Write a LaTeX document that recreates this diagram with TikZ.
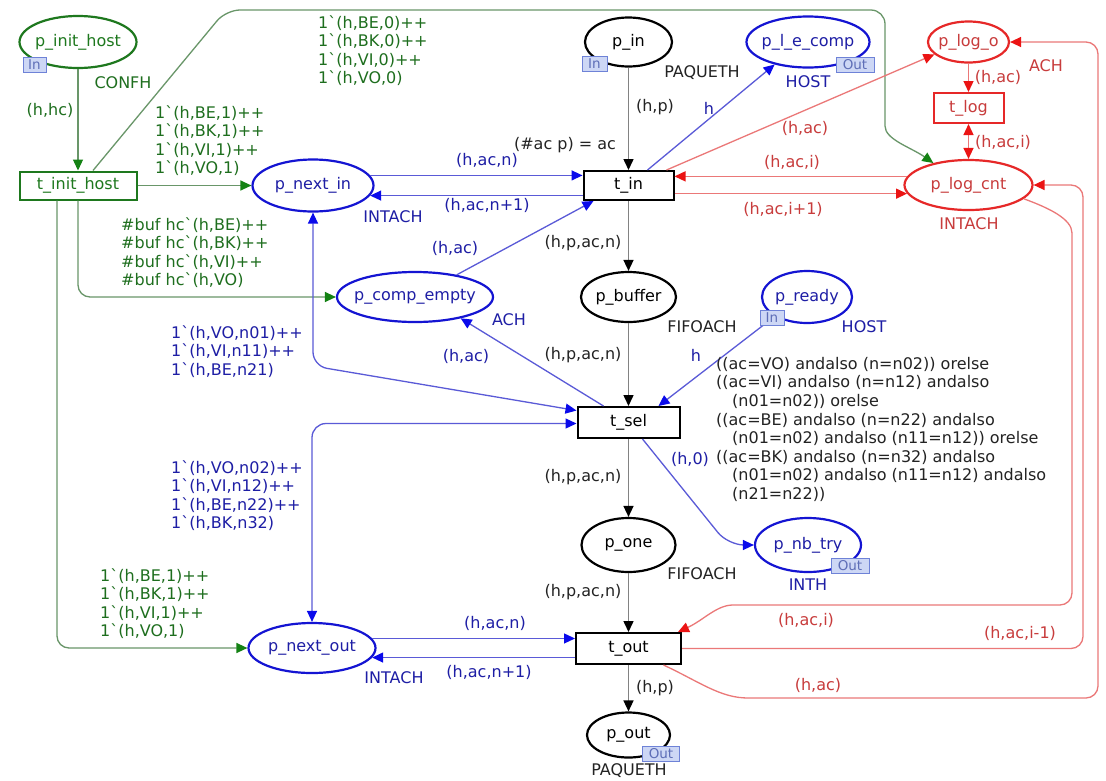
\documentclass[tikz,border=0pt]{standalone}
\usepackage{fontspec}
\setmainfont{DejaVu Sans}
\usetikzlibrary{shapes.geometric,arrows.meta}
\definecolor{gline}{RGB}{105,150,105}
\definecolor{gtip}{RGB}{20,130,20}
\definecolor{gtext}{RGB}{30,110,30}
\definecolor{gnode}{RGB}{30,120,30}
\definecolor{bline}{RGB}{90,90,215}
\definecolor{btip}{RGB}{10,10,235}
\definecolor{btext}{RGB}{30,30,165}
\definecolor{bnode}{RGB}{20,20,210}
\definecolor{rline}{RGB}{235,120,120}
\definecolor{rtip}{RGB}{235,20,20}
\definecolor{rtext}{RGB}{200,60,60}
\definecolor{rnode}{RGB}{230,40,40}
\definecolor{kline}{RGB}{130,130,130}
\definecolor{ktext}{RGB}{35,35,35}
\definecolor{portfill}{RGB}{205,215,245}
\definecolor{portdraw}{RGB}{110,130,215}
\newcommand{\bqt}{\textasciigrave}
\tikzset{
  ghead/.tip={Triangle[length=11pt,width=10pt,color=gtip]},
  bhead/.tip={Triangle[length=11pt,width=10pt,color=btip]},
  rhead/.tip={Triangle[length=11pt,width=10pt,color=rtip]},
  khead/.tip={Triangle[length=11pt,width=10pt,color=black]},
  place/.style={ellipse, inner sep=0pt, line width=2.2pt, fill=white},
  trans/.style={rectangle, inner sep=0pt, line width=2pt, fill=white},
  port/.style={rectangle, inner sep=0pt, minimum height=15pt, fill=portfill, draw=portdraw,
    line width=0.8pt, text=portdraw!85!black, font=\fontsize{13.5}{14}\selectfont},
  garc/.style={draw=gline, line width=1.3pt, -ghead},
  barc/.style={draw=bline, line width=1.3pt, -bhead},
  bboth/.style={barc, bhead-bhead},
  rarc/.style={draw=rline, line width=1.3pt, -rhead},
  rboth/.style={rarc, rhead-rhead},
  karc/.style={draw=kline, line width=1.5pt, -khead},
  gtxt/.style={text=gtext, inner sep=0pt},
  btxt/.style={text=btext, inner sep=0pt},
  rtxt/.style={text=rtext, inner sep=0pt},
  ktxt/.style={text=ktext, inner sep=0pt},
}
\begin{document}
\begin{tikzpicture}[x=1pt, y=-1pt, font=\fontsize{16}{18.6}\selectfont]
  \fill[white] (0,0) rectangle (1106,780);
  \useasboundingbox (0,0) rectangle (1106,780);

  \node[place, draw=gnode, text=gnode, minimum width=117pt, minimum height=52pt] (pinithost) at (78,42) {\makebox[0pt]{p\_init\_host}};
  \node[trans, draw=gnode, text=gnode, minimum width=117pt, minimum height=28pt] (tinithost) at (78,185.5) {t\_init\_host};
  \node[place, draw=bnode, text=btext, minimum width=121pt, minimum height=52pt] (pnextin) at (313,185.5) {\makebox[0pt]{p\_next\_in}};
  \node[place, draw=bnode, text=btext, minimum width=156pt, minimum height=50pt] (pcompempty) at (415,297) {\makebox[0pt]{p\_comp\_empty}};
  \node[place, draw=bnode, text=btext, minimum width=127pt, minimum height=50pt] (pnextout) at (312,648) {\makebox[0pt]{p\_next\_out}};
  \node[place, draw=black, minimum width=87pt, minimum height=49pt] (pin) at (628.5,42) {\makebox[0pt]{p\_in}};
  \node[trans, draw=black, minimum width=90pt, minimum height=29pt] (tin) at (628.5,185.5) {t\_in};
  \node[place, draw=bnode, text=btext, minimum width=123pt, minimum height=51pt] (plecomp) at (808,42) {\makebox[0pt]{p\_l\_e\_comp}};
  \node[place, draw=rnode, text=rtext, minimum width=81pt, minimum height=41pt] (plogo) at (968.5,42) {\makebox[0pt]{p\_log\_o}};
  \node[trans, draw=rnode, text=rtext, minimum width=70pt, minimum height=30pt] (tlog) at (968.5,108) {t\_log};
  \node[place, draw=rnode, text=rtext, minimum width=128pt, minimum height=50pt] (plogcnt) at (968.5,185) {\makebox[0pt]{p\_log\_cnt}};
  \node[place, draw=black, minimum width=95pt, minimum height=50pt] (pbuffer) at (628.5,297) {\makebox[0pt]{p\_buffer}};
  \node[place, draw=bnode, text=btext, minimum width=90pt, minimum height=52pt] (pready) at (807,297) {\makebox[0pt]{p\_ready}};
  \node[trans, draw=black, minimum width=102pt, minimum height=31pt] (tsel) at (628.5,422.5) {t\_sel};
  \node[place, draw=black, minimum width=94pt, minimum height=54pt] (pone) at (628.5,545) {\makebox[0pt]{p\_one}};
  \node[place, draw=bnode, text=btext, minimum width=106pt, minimum height=54pt] (pnbtry) at (808,545) {\makebox[0pt]{p\_nb\_try}};
  \node[trans, draw=black, minimum width=105pt, minimum height=31pt] (tout) at (628.5,648.5) {t\_out};
  \node[place, draw=black, minimum width=83pt, minimum height=45pt] (pout) at (628.5,735) {\makebox[0pt]{p\_out}};

  \node[gtxt] (confh) at (123,83) {CONFH};
  \node[btxt] (intachin) at (393,217) {INTACH};
  \node[btxt] (achce) at (509,320) {ACH};
  \node[btxt] (intachout) at (394,678) {INTACH};
  \node[ktxt] (paqin) at (702,73) {PAQUETH};
  \node[btxt] (hostle) at (808,82) {HOST};
  \node[rtxt] (achlog) at (1046,66) {ACH};
  \node[rtxt] (intachlog) at (969,224) {INTACH};
  \node[ktxt] (fifobuf) at (702,327) {FIFOACH};
  \node[btxt] (hostready) at (864,327) {HOST};
  \node[ktxt] (fifoone) at (702,574) {FIFOACH};
  \node[btxt] (inth) at (808,585) {INTH};
  \node[ktxt] (paqout) at (629,771) {PAQUETH};

  \draw[garc] (pinithost) -- (tinithost);
  \node[gtxt] (ahhc) at (50,110) {(h,hc)};
  \draw[garc, rounded corners=14pt] ([xshift=15pt]tinithost.north) -- (226,10) -- (885,10) -- (885,112) to[out=-90,in=145] (plogcnt.148);
  \node[gtxt, anchor=north west, align=left] (ainitlog) at (318,15) {1\bqt(h,BE,0)++\\1\bqt(h,BK,0)++\\1\bqt(h,VI,0)++\\1\bqt(h,VO,0)};
  \draw[garc] (tinithost) -- (pnextin);
  \node[gtxt, anchor=north west, align=left] (ainitin) at (155,105) {1\bqt(h,BE,1)++\\1\bqt(h,BK,1)++\\1\bqt(h,VI,1)++\\1\bqt(h,VO,1)};
  \draw[garc, rounded corners=12pt] (tinithost.south) |- (pcompempty.west);
  \node[gtxt, anchor=north west, align=left] (ainitce) at (121,217) {\#buf hc\bqt(h,BE)++\\\#buf hc\bqt(h,BK)++\\\#buf hc\bqt(h,VI)++\\\#buf hc\bqt(h,VO)};
  \draw[garc, rounded corners=12pt] ([xshift=-21pt]tinithost.south) |- (pnextout.west);
  \node[gtxt, anchor=north west, align=left] (ainitout) at (100,568) {1\bqt(h,BE,1)++\\1\bqt(h,BK,1)++\\1\bqt(h,VI,1)++\\1\bqt(h,VO,1)};

  \draw[barc] (pnextin.10) -- (pnextin.10 -| tin.west);
  \node[btxt] (anin) at (487,160) {(h,ac,n)};
  \draw[barc] (pnextin.-10 -| tin.west) -- (pnextin.-10);
  \node[btxt] (aninback) at (487,205) {(h,ac,n+1)};
  \draw[barc] (pcompempty.28) -- ([xshift=-35pt]tin.south);
  \node[btxt] (acein) at (455,248) {(h,ac)};
  \draw[barc] ([xshift=-25pt]tsel.north) -- (pcompempty.-25);
  \node[btxt] (aselce) at (466,356) {(h,ac)};
  \draw[bboth, rounded corners=14pt] (pnextin.south) -- (313,366) -- ([yshift=12pt]tsel.west);
  \node[btxt, anchor=north west, align=left] (aselin) at (171,325) {1\bqt(h,VO,n01)++\\1\bqt(h,VI,n11)++\\1\bqt(h,BE,n21)};
  \draw[bboth, rounded corners=14pt] ([yshift=-1pt]tsel.west) -| (pnextout.north);
  \node[btxt, anchor=north west, align=left] (aselout) at (171,460) {1\bqt(h,VO,n02)++\\1\bqt(h,VI,n12)++\\1\bqt(h,BE,n22)++\\1\bqt(h,BK,n32)};
  \draw[barc] (pready.211) -- ([xshift=30pt]tsel.north);
  \node[btxt] (areadysel) at (696,355) {h};
  \draw[barc, rounded corners=16pt] ([xshift=14pt]tsel.south) -- (728,545) -- (pnbtry.west);
  \node[btxt] (aselnb) at (690,459) {(h,0)};
  \draw[barc] (pnextout.9) -- (pnextout.9 -| tout.west);
  \node[btxt] (anout) at (495,623) {(h,ac,n)};
  \draw[barc] (pnextout.-9 -| tout.west) -- (pnextout.-9);
  \node[btxt] (anoutback) at (489,672) {(h,ac,n+1)};
  \draw[barc] ([xshift=19pt]tin.north) -- (plecomp.214);
  \node[btxt] (ainle) at (709,108) {h};

  \draw[karc] (pin) -- (tin);
  \node[ktxt] (ainp) at (655,107) {(h,p)};
  \node[ktxt] (gin) at (565,145) {(\#ac p) = ac};
  \foreach \a/\b/\y in {tin/pbuffer/243, pbuffer/tsel/355, tsel/pone/477, pone/tout/592}{
    \draw[karc] (\a) -- (\b);
    \node[ktxt] (k\a) at (583,\y) {(h,p,ac,n)};
  }
  \draw[karc] (tout) -- (pout);
  \node[ktxt] (aoutp) at (655,688) {(h,p)};
  \node[ktxt, anchor=north west, align=left] (gsel) at (716,357) {((ac=VO) andalso (n=n02)) orelse\\((ac=VI) andalso (n=n12) andalso\\\hspace*{16pt}(n01=n02)) orelse\\((ac=BE) andalso (n=n22) andalso\\\hspace*{16pt}(n01=n02) andalso (n11=n12)) orelse\\((ac=BK) andalso (n=n32) andalso\\\hspace*{16pt}(n01=n02) andalso (n11=n12) andalso\\\hspace*{16pt}(n21=n22))};

  \draw[rarc] ([xshift=-8pt]tin.north east) -- (plogo.200);
  \node[rtxt] (ainlo) at (805,128) {(h,ac)};
  \draw[rarc] (plogcnt.172) -- (plogcnt.172 -| tin.east);
  \node[rtxt] (acntin) at (792,162) {(h,ac,i)};
  \draw[rarc] (plogcnt.188 -| tin.east) -- (plogcnt.188);
  \node[rtxt] (aincnt) at (783,209) {(h,ac,i+1)};
  \draw[rarc] (plogo) -- (tlog);
  \node[rtxt] (alog) at (998,77) {(h,ac)};
  \draw[rboth] (tlog) -- (plogcnt);
  \node[rtxt] (alogcnt) at (1003,142) {(h,ac,i)};
  \draw[rarc, rounded corners=12pt] (plogcnt.-14) to[out=-20,in=90] (1072,245) -- (1072,605) -- (745,605) to[out=180,in=25] ([xshift=-4pt]tout.north east);
  \node[rtxt] (acntout) at (806,620) {(h,ac,i)};
  \draw[rarc, rounded corners=12pt] (tout.east) -| (1083,185) -- (plogcnt.east);
  \node[rtxt] (aoutcnt) at (1020,633) {(h,ac,i-1)};
  \draw[rarc, rounded corners=12pt] ([xshift=35pt]tout.south) to[out=-25,in=180] (760,698) -| (1098,42) -- (plogo.east);
  \node[rtxt] (aoutlo) at (818,685) {(h,ac)};

  \node[port, minimum width=23pt] (pinithostio) at (34.5,65) {In};
  \node[port, minimum width=25pt] (pinio) at (594.5,64) {In};
  \node[port, minimum width=38pt] (plecompio) at (855,65) {Out};
  \node[port, minimum width=24pt] (preadyio) at (772,318) {In};
  \node[port, minimum width=38pt] (pnbtryio) at (850,566) {Out};
  \node[port, minimum width=37pt] (poutio) at (661,754) {Out};
\end{tikzpicture}
\end{document}
